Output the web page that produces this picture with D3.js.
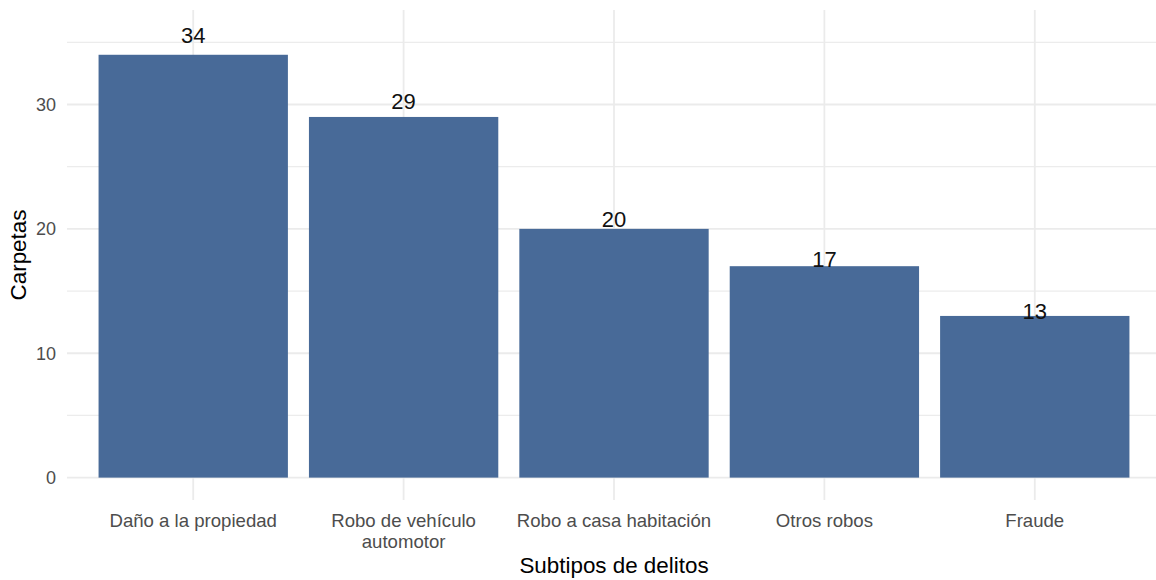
<!DOCTYPE html>
<html>
<head>
<meta charset="utf-8">
<script src="https://cdn.jsdelivr.net/npm/d3@7"></script>
<style>
    body { margin: 0; background: #fff; }
    text { font-family: "Liberation Sans", Arial, sans-serif; }
</style>
</head>
<body>
<div id="chart"></div>
<script>
// data
const categories = ["Daño a la propiedad", "Robo de vehículo\nautomotor", "Robo a casa habitación", "Otros robos", "Fraude"];
const values = [34, 29, 20, 17, 13];
const majorTicks = [0, 10, 20, 30];
const minorTicks = [5, 15, 25, 35];

const width = 1156, height = 580;
const margin = {top: 10, right: -5, bottom: 80, left: 67};

const svg = d3.select("#chart").append("svg")
    .attr("width", width)
    .attr("height", height);

// ggplot style discrete expansion: 0.6 of a step on each side
let x = d3.scaleBand()
    .domain(categories)
    .range([margin.left, width - margin.right])
    .paddingInner(0.1)
    .paddingOuter(0.15);

let y = d3.scaleLinear()
    .domain([-1.8, 37.6])
    .range([height - margin.bottom, margin.top]);

let grid = svg.append("g").attr("class", "grid");

grid.selectAll(".minor")
    .data(minorTicks)
    .enter().append("line")
    .attr("x1", margin.left).attr("x2", width)
    .attr("y1", d => y(d)).attr("y2", d => y(d))
    .style("stroke", "#ececec")
    .style("stroke-width", 1.3);

grid.selectAll(".major")
    .data(majorTicks)
    .enter().append("line")
    .attr("x1", margin.left).attr("x2", width)
    .attr("y1", d => y(d)).attr("y2", d => y(d))
    .style("stroke", "#ebebeb")
    .style("stroke-width", 1.8);

grid.selectAll(".vmajor")
    .data(categories)
    .enter().append("line")
    .attr("x1", d => x(d) + x.bandwidth() / 2).attr("x2", d => x(d) + x.bandwidth() / 2)
    .attr("y1", margin.top).attr("y2", height - margin.bottom)
    .style("stroke", "#ebebeb")
    .style("stroke-width", 1.8);

// bars
svg.selectAll(".bar")
    .data(values)
    .enter().append("rect")
    .attr("class", "bar")
    .attr("x", (d, i) => x(categories[i]))
    .attr("width", x.bandwidth())
    .attr("y", d => y(d))
    .attr("height", d => y(0) - y(d))
    .attr("fill", "#486a98");

// value labels (in the original they drift a bit with bar height)
svg.selectAll(".val")
    .data(values)
    .enter().append("text")
    .attr("class", "val")
    .attr("text-anchor", "middle")
    .attr("x", (d, i) => x(categories[i]) + x.bandwidth() / 2)
    .attr("y", d => y(d * 1.058 - 1.02))
    .style("font-size", "22px")
    .style("fill", "#111")
    .text(d => d);

// y tick labels
svg.selectAll(".ytick")
    .data(majorTicks)
    .enter().append("text")
    .attr("text-anchor", "end")
    .attr("x", 56)
    .attr("y", d => y(d))
    .attr("dy", "0.36em")
    .style("font-size", "18px")
    .style("fill", "#4d4d4d")
    .text(d => d);

// x tick labels, may be two lines
let xt = svg.selectAll(".xtick")
    .data(categories)
    .enter().append("text")
    .attr("text-anchor", "middle")
    .attr("x", d => x(d) + x.bandwidth() / 2)
    .attr("y", 527)
    .style("font-size", "18.6px")
    .style("fill", "#4d4d4d");

xt.selectAll("tspan")
    .data(d => d.split("\n").map(s => ({s: s, cx: x(d) + x.bandwidth() / 2})))
    .enter().append("tspan")
    .attr("x", d => d.cx)
    .attr("dy", (d, i) => i === 0 ? 0 : 20.5)
    .text(d => d.s);

// axis titles
svg.append("text")
    .attr("text-anchor", "middle")
    .attr("x", (margin.left + width - margin.right) / 2)
    .attr("y", 573)
    .style("font-size", "22.4px")
    .style("fill", "#000")
    .text("Subtipos de delitos");

svg.append("text")
    .attr("text-anchor", "middle")
    .attr("transform", "translate(26," + ((margin.top + height - margin.bottom) / 2) + ") rotate(-90)")
    .style("font-size", "22.4px")
    .style("fill", "#000")
    .text("Carpetas");
</script>
</body>
</html>
